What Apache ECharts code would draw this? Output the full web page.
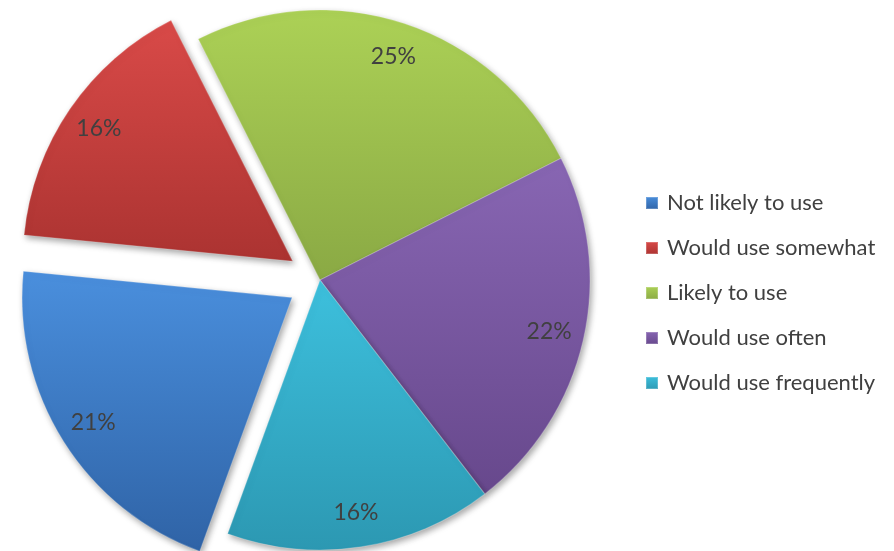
<!DOCTYPE html>
<html>
<head>
<meta charset="utf-8">
<style>
  html, body { margin: 0; padding: 0; background: #ffffff; }
  #chart { width: 894px; height: 551px; }
</style>
<script src="https://cdn.jsdelivr.net/npm/echarts@6/dist/echarts.min.js"></script>
</head>
<body>
<div id="chart"></div>
<script>
// Survey answers and their shares (percent)
const categories = ['Not likely to use', 'Would use somewhat', 'Likely to use', 'Would use often', 'Would use frequently'];
const shares = [21, 16, 25, 22, 16];
// Slices pulled out of the pie
const exploded = [true, true, false, false, false];
// Fill tones per slice: [top, bottom]
const tones = [
  ['#4a8fdd', '#2f63a6'],
  ['#d94a48', '#ab3331'],
  ['#acd156', '#8aa944'],
  ['#8866b3', '#67488c'],
  ['#3dc0dd', '#2c98b2']
];

const chart = echarts.init(document.getElementById('chart'), null, { renderer: 'canvas' });

function fill(i) {
  return new echarts.graphic.LinearGradient(0, 0, 0, 1, [
    { offset: 0, color: tones[i][0] },
    { offset: 1, color: tones[i][1] }
  ]);
}

const sliceData = categories.map((name, i) => ({
  name: name,
  value: shares[i],
  selected: exploded[i],
  itemStyle: { color: fill(i) }
}));

const labelData = categories.map((name, i) => ({
  name: name,
  value: shares[i],
  selected: exploded[i]
}));

const common = {
  type: 'pie',
  center: [320, 280],
  startAngle: 250,
  clockwise: true,
  selectedMode: 'multiple',
  selectedOffset: 33,
  avoidLabelOverlap: false,
  animation: false
};

chart.setOption({
  backgroundColor: '#ffffff',
  legend: {
    orient: 'vertical',
    left: 640,
    top: 187,
    itemWidth: 12,
    itemHeight: 12,
    itemGap: 23,
    icon: 'rect',
    selectedMode: false,
    data: categories,
    textStyle: { fontFamily: 'Lato', fontSize: 22, color: '#404040', padding: [0, 0, 0, 4] }
  },
  series: [
    Object.assign({}, common, {
      name: 'slices',
      radius: [0, 270],
      label: { show: false },
      labelLine: { show: false },
      itemStyle: {
        borderColor: 'rgba(255,255,255,0.22)',
        borderWidth: 1.2,
        shadowBlur: 6,
        shadowOffsetX: 2,
        shadowOffsetY: 3,
        shadowColor: 'rgba(0,0,0,0.35)'
      },
      emphasis: { disabled: true },
      data: sliceData
    }),
    Object.assign({}, common, {
      name: 'labels',
      radius: [194, 270],
      silent: true,
      z: 3,
      itemStyle: { color: 'rgba(0,0,0,0)' },
      label: {
        show: true,
        position: 'inside',
        formatter: p => p.value + '%',
        fontFamily: 'Lato',
        fontSize: 23,
        color: '#404040'
      },
      labelLine: { show: false },
      emphasis: { disabled: true },
      data: labelData
    })
  ]
});
</script>
</body>
</html>
